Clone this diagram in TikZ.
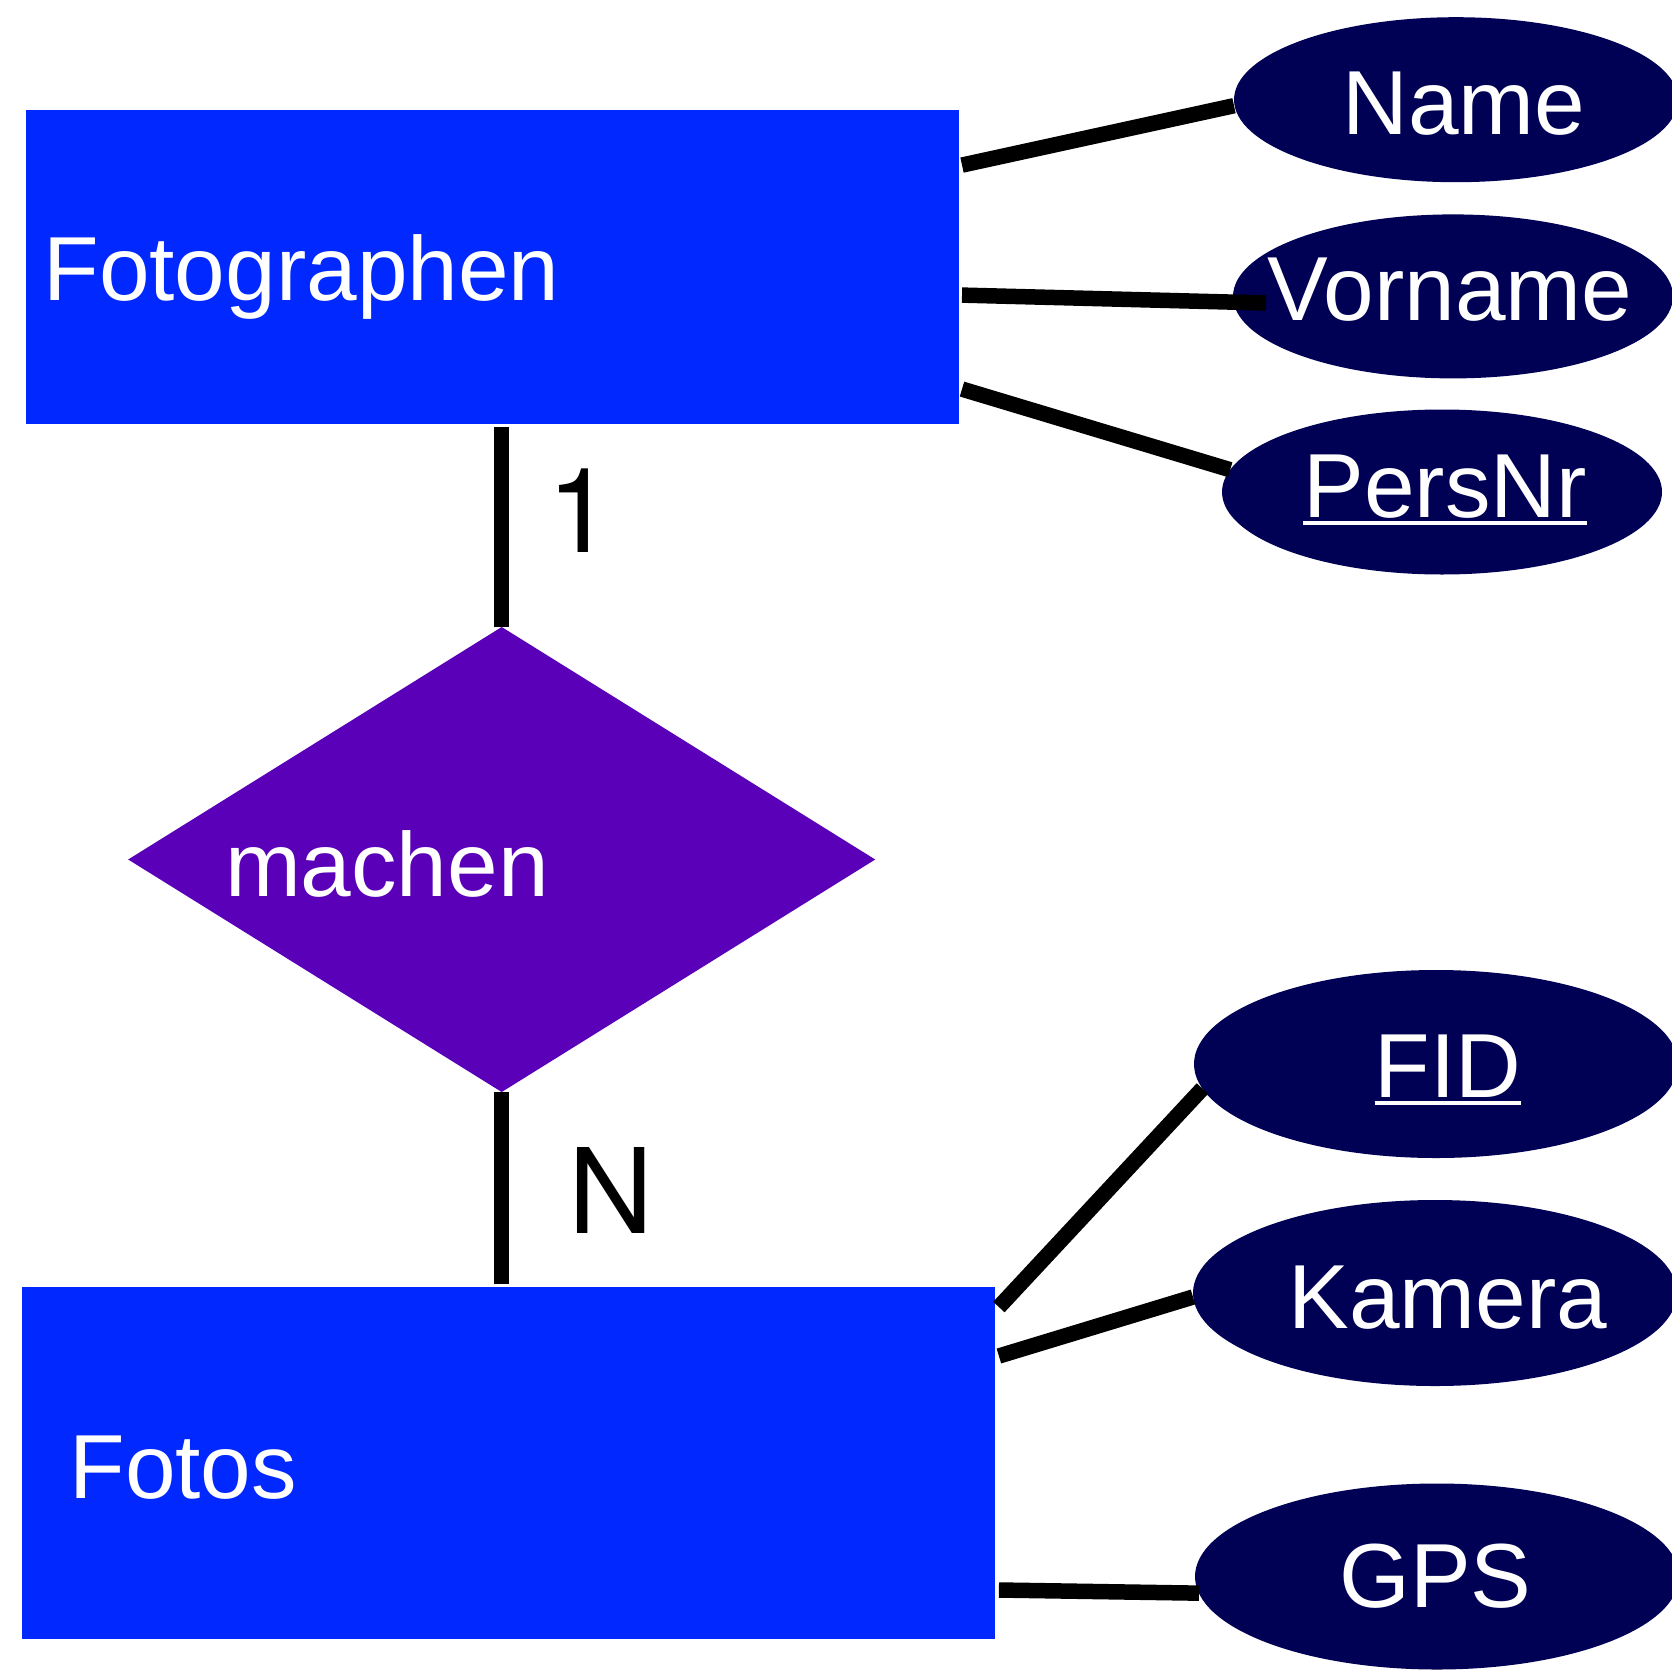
\documentclass[tikz,border=0pt]{standalone}
\usepackage{fontspec}
\setmainfont{Liberation Sans}
\newfontfamily\heros{TeX Gyre Heros}
\usetikzlibrary{shapes.geometric}
\definecolor{entblue}{RGB}{0,40,255}
\definecolor{attnavy}{RGB}{0,0,85}
\definecolor{relpurple}{RGB}{90,0,184}
\tikzset{
  entity/.style={rectangle, fill=entblue, inner sep=0pt, outer sep=0pt},
  attrib/.style={ellipse, fill=attnavy, inner sep=0pt, outer sep=0pt},
  relship/.style={diamond, fill=relpurple, inner sep=0pt, outer sep=0pt},
  conn/.style={line width=15.5pt, black},
  wtxt/.style={text=white, inner sep=0pt, outer sep=0pt, font=\fontsize{91}{100}\selectfont},
  card/.style={text=black, inner sep=0pt, outer sep=0pt, font=\heros\fontsize{118}{130}\selectfont},
  uline/.style={line width=4.5pt, white},
}
\begin{document}
\begin{tikzpicture}[x=1pt,y=-1pt]
\useasboundingbox (0,0) rectangle (1672,1670);
\fill[white] (0,0) rectangle (1672,1670);
\clip (0,0) rectangle (1672,1670);

% entities and relationship
\node[entity, minimum width=933pt, minimum height=314.6pt] (F) at (492.1,267.1) {};
\node[entity, minimum width=972.5pt, minimum height=352pt] (P) at (508.65,1463) {};
\node[relship, minimum width=747pt, minimum height=465pt] (D) at (501.7,859.5) {};

% attributes
\node[attrib, minimum width=444pt, minimum height=165pt] (Name) at (1456,99.7) {};
\node[attrib, minimum width=440pt, minimum height=164pt] (Vorname) at (1453,296.4) {};
\node[attrib, minimum width=440pt, minimum height=165pt] (PersNr) at (1442,492) {};
\node[attrib, minimum width=484pt, minimum height=188pt] (FID) at (1436,1064) {};
\node[attrib, minimum width=484pt, minimum height=186pt] (Kamera) at (1435,1293) {};
\node[attrib, minimum width=484pt, minimum height=186pt] (GPS) at (1437,1576.5) {};

% connectors
\draw[conn] ([yshift=-3pt]D.north |- F.south) -- (D.north);
\draw[conn] (D.south) -- ([yshift=3pt]D.south |- P.north);
\draw[conn] ([shift={(3.4,-102)}]F.east) -- ([yshift=-6pt]Name.west);
\draw[conn] ([shift={(3.4,28)}]F.east) -- ([shift={(33,6.6)}]Vorname.west);
\draw[conn] ([shift={(3.4,122)}]F.east) -- (PersNr.174);
\draw[conn] ([shift={(4,-156)}]P.east) -- (FID.186);
\draw[conn] ([shift={(4,-107)}]P.east) -- ([yshift=-4pt]Kamera.west);
\draw[conn] ([shift={(4,127)}]P.east) -- (GPS.184);

% texts
\node[wtxt, anchor=base west] (tF) at (43.5,300.7) {Fotographen};
\node[wtxt, anchor=base west] (tP) at (69.5,1498) {Fotos};
\node[wtxt, anchor=base west] (tD) at (225,896) {machen};
\node[wtxt, anchor=base] (tName) at (1464,134) {Name};
\node[wtxt, anchor=base] (tVorname) at (1450,320) {Vorname};
\node[wtxt, anchor=base] (tPersNr) at (1445,517) {PersNr};
\node[wtxt, anchor=base] (tFID) at (1448,1097) {FID};
\node[wtxt, anchor=base] (tKamera) at (1448,1328) {Kamera};
\node[wtxt, anchor=base] (tGPS) at (1435.5,1607) {GPS};
\draw[uline] ([yshift=-6pt]tPersNr.base west) -- ([yshift=-6pt]tPersNr.base east);
\draw[uline] ([yshift=-6pt]tFID.base west) -- ([yshift=-6pt]tFID.base east);

% cardinalities
\node[card, anchor=base west] (c1) at (547,552) {1};
\node[card, anchor=base west] (cN) at (568,1233) {N};
\end{tikzpicture}
\end{document}
